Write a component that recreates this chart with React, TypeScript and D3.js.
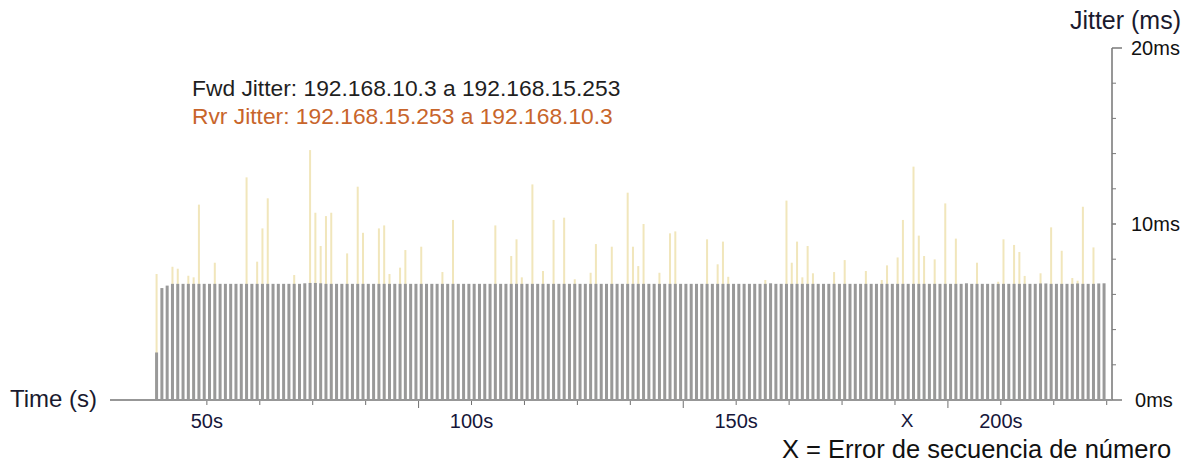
import React from "react";
import * as d3 from "d3";

// Samples: one per second, first sample at 40.5 s
const sampleStart = 40.5;
const sampleStep = 1;

// Fwd jitter (ms), gray bars, one value per sample
const fwdJitter: number[] = [
  2.7, 6.36, 6.5, 6.6, 6.6, 6.6, 6.6, 6.6, 6.6, 6.6,
  6.6, 6.6, 6.6, 6.6, 6.6, 6.6, 6.6, 6.6, 6.6, 6.6,
  6.6, 6.6, 6.6, 6.6, 6.6, 6.6, 6.6, 6.6, 6.63, 6.65,
  6.65, 6.63, 6.6, 6.6, 6.6, 6.6, 6.6, 6.6, 6.6, 6.6,
  6.6, 6.6, 6.6, 6.6, 6.6, 6.6, 6.6, 6.6, 6.6, 6.6,
  6.6, 6.6, 6.6, 6.6, 6.6, 6.6, 6.6, 6.6, 6.6, 6.6,
  6.6, 6.6, 6.6, 6.6, 6.6, 6.6, 6.6, 6.6, 6.6, 6.6,
  6.6, 6.6, 6.6, 6.6, 6.6, 6.6, 6.6, 6.6, 6.6, 6.6,
  6.6, 6.6, 6.6, 6.6, 6.6, 6.6, 6.6, 6.6, 6.6, 6.6,
  6.6, 6.6, 6.6, 6.6, 6.6, 6.6, 6.6, 6.6, 6.6, 6.6,
  6.6, 6.6, 6.6, 6.6, 6.6, 6.6, 6.6, 6.6, 6.6, 6.6,
  6.6, 6.6, 6.6, 6.6, 6.6, 6.6, 6.63, 6.6, 6.6, 6.6,
  6.6, 6.6, 6.6, 6.6, 6.6, 6.6, 6.6, 6.6, 6.6, 6.6,
  6.6, 6.6, 6.6, 6.6, 6.6, 6.6, 6.6, 6.6, 6.6, 6.6,
  6.6, 6.6, 6.6, 6.6, 6.6, 6.6, 6.6, 6.6, 6.6, 6.6,
  6.6, 6.6, 6.6, 6.63, 6.6, 6.6, 6.6, 6.6, 6.6, 6.6,
  6.6, 6.6, 6.6, 6.6, 6.6, 6.6, 6.6, 6.62, 6.62, 6.6,
  6.6, 6.6, 6.6, 6.6, 6.62, 6.6, 6.6, 6.6, 6.62, 6.63,
];

// Rvr jitter (ms), pale yellow bars: visible samples (index) and values
const rvrIndex: number[] = [
  0, 3, 4, 6, 7, 8, 11, 17, 19, 20, 21, 26, 29, 30, 31, 32, 33, 36, 38, 39,
  42, 43, 44, 46, 47, 50, 54, 56, 64, 67, 68, 69, 71, 73, 75, 77, 79, 82, 83, 86,
  89, 90, 91, 92, 95, 97, 98, 104, 106, 107, 108, 115, 119, 120, 121, 122, 123, 124, 128, 130,
  134, 137, 138, 140, 141, 143, 144, 145, 147, 149, 151, 155, 159, 160, 162, 163, 164, 167, 169, 171,
  173, 174, 175, 177,
];
const rvrJitter: number[] = [
  7.16, 7.57, 7.46, 7.06, 6.97, 11.1, 7.8, 12.65, 7.86, 9.75, 11.46, 7.1, 14.2, 10.64, 8.75, 10.45, 10.64, 8.33, 12.12, 9.5,
  9.75, 9.92, 7.16, 7.52, 8.52, 8.71, 7.27, 10.23, 9.92, 8.18, 9.13, 6.97, 12.25, 7.33, 10.23, 10.36, 6.86, 7.23, 8.86, 8.71,
  11.78, 8.71, 7.61, 10.0, 7.23, 9.47, 9.58, 9.13, 7.71, 9.0, 7.0, 6.82, 11.33, 7.8, 9.0, 6.97, 8.75, 7.2, 7.27, 7.95,
  7.33, 6.82, 7.65, 8.1, 10.23, 13.26, 9.34, 8.18, 7.99, 11.17, 9.17, 7.8, 6.72, 9.13, 8.81, 8.41, 7.05, 7.2, 9.81, 8.48,
  6.93, 6.78, 10.98, 8.67,
];

// Sequence number errors (time, s)
const seqErrors: number[] = [182.3];

// Axis ticks
const xTickValues: number[] = [50, 60, 70, 80, 90, 100, 110, 120, 130, 140, 150, 160, 170, 180, 190, 200, 210, 220];
const xMajorTicks: number[] = [90, 140, 190];
const xLabelValues: number[] = [50, 100, 150, 200];
const yMinorTicks: number[] = [2, 4, 6, 8, 12, 14, 16, 18];
const yLabelValues: number[] = [0, 10, 20];

const FONT = "'Liberation Sans', Arial, sans-serif";

export default function App() {
  const W = 1197;
  const H = 468;
  const x = d3.scaleLinear().domain([31.7, 221.0]).range([110, 1112]);
  const y = d3.scaleLinear().domain([0, 20]).range([400, 48]);
  const axisX = x(221.0);
  const base = y(0);
  const tOf = (i: number) => sampleStart + i * sampleStep;

  return (
    <svg
      width={W}
      height={H}
      style={{ position: "absolute", left: 0, top: 0, background: "#fff" }}
      fontFamily={FONT}
    >
      {/* Rvr jitter bars (behind) */}
      {rvrIndex.map((idx, k) => (
        <rect
          key={"r" + k}
          x={x(tOf(idx)) - 1}
          y={y(rvrJitter[k])}
          width={2}
          height={base - y(rvrJitter[k])}
          fill="#f1e6bb"
        />
      ))}
      {/* Fwd jitter bars */}
      {fwdJitter.map((v, i) => (
        <rect
          key={"f" + i}
          x={x(tOf(i)) - 1.5}
          y={y(v)}
          width={3}
          height={base - y(v)}
          fill="#999999"
        />
      ))}

      {/* X axis */}
      <line x1={110} x2={axisX} y1={base} y2={base} stroke="#979797" strokeWidth={2} />
      {xTickValues.map((t) => (
        <line
          key={"xt" + t}
          x1={x(t)}
          x2={x(t)}
          y1={base + 1}
          y2={base + (xMajorTicks.includes(t) ? 8 : 5)}
          stroke="#6f6f6f"
          strokeWidth={1}
        />
      ))}
      {xLabelValues.map((t) => (
        <text key={"xl" + t} x={x(t)} y={428} textAnchor="middle" fontSize={20} fill="#16163a">
          {t}s
        </text>
      ))}
      {seqErrors.map((t, i) => (
        <text key={"se" + i} x={x(t)} y={427} textAnchor="middle" fontSize={19} fill="#16163a">
          X
        </text>
      ))}
      <text x={10} y={407} fontSize={24} fill="#1a1a2e">
        Time (s)
      </text>

      {/* Y axis (right) */}
      <line x1={axisX} x2={axisX} y1={y(20)} y2={base} stroke="#979797" strokeWidth={2} />
      {yMinorTicks.map((v) => (
        <line key={"ym" + v} x1={axisX} x2={axisX + 4} y1={y(v)} y2={y(v)} stroke="#7a7a7a" strokeWidth={1} />
      ))}
      {yLabelValues.map((v) => (
        <line
          key={"yM" + v}
          x1={axisX}
          x2={axisX + (v === 10 ? 4 : 10)}
          y1={y(v)}
          y2={y(v)}
          stroke="#7a7a7a"
          strokeWidth={1.5}
        />
      ))}
      {yLabelValues.map((v) => (
        <text
          key={"yl" + v}
          x={v === 0 ? 1135 : 1131}
          y={y(v) + 7}
          fontSize={20}
          fill="#111"
        >
          {v}ms
        </text>
      ))}
      <text x={1181} y={29} textAnchor="end" fontSize={25} fill="#1a1a2e">
        Jitter (ms)
      </text>

      {/* Legend */}
      <text x={192} y={96} fontSize={22.8} fill="#1f1f1f">
        Fwd Jitter: 192.168.10.3 a 192.168.15.253
      </text>
      <text x={192} y={124} fontSize={22.8} fill="#c8652b">
        Rvr Jitter: 192.168.15.253 a 192.168.10.3
      </text>

      {/* Footnote */}
      <text x={782} y={458} fontSize={25.5} fill="#111">
        X = Error de secuencia de número
      </text>
    </svg>
  );
}
